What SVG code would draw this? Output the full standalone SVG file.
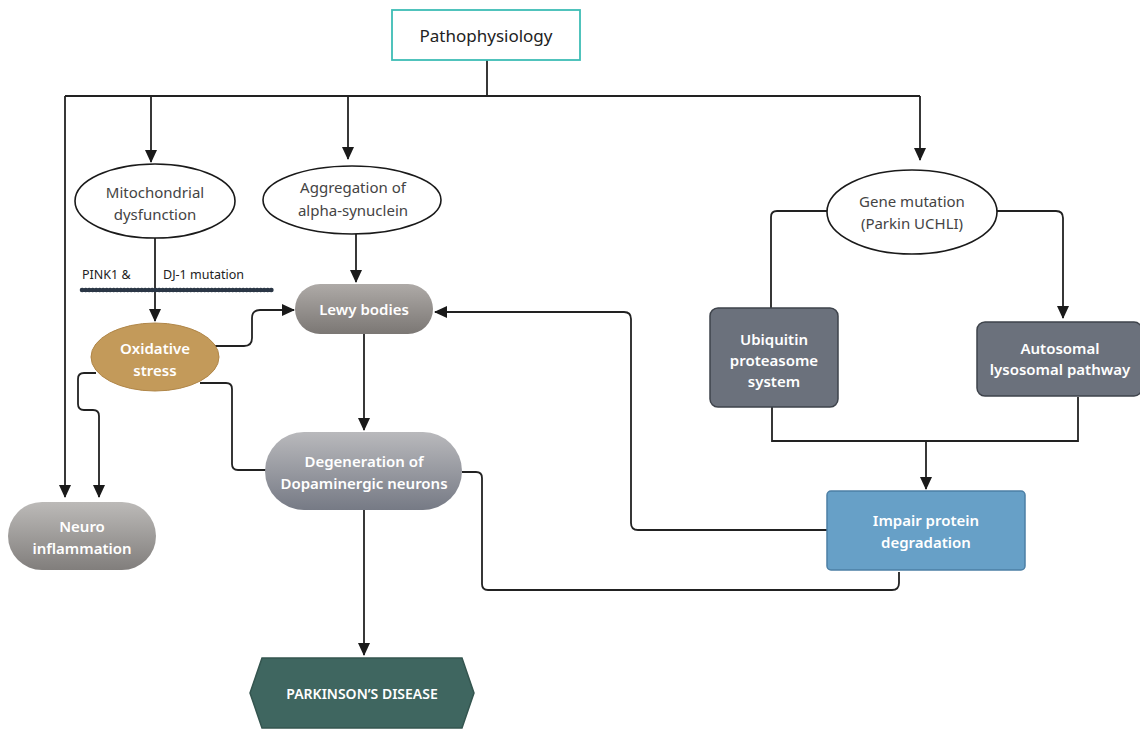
<svg xmlns="http://www.w3.org/2000/svg" width="1140" height="729" viewBox="0 0 1140 729">
<defs>
<marker id="arr" markerUnits="userSpaceOnUse" markerWidth="14" markerHeight="12" refX="12" refY="6" orient="auto">
<path d="M0,0 L13,6 L0,12 Z" fill="#1a1a1a"/>
</marker>
<linearGradient id="gLewy" x1="0" y1="0" x2="0" y2="1"><stop offset="0" stop-color="#aeaaa7"/><stop offset="1" stop-color="#7b7774"/></linearGradient>
<linearGradient id="gDeg" x1="0" y1="0" x2="0" y2="1"><stop offset="0" stop-color="#b9b9bc"/><stop offset="1" stop-color="#767a85"/></linearGradient>
<linearGradient id="gNeuro" x1="0" y1="0" x2="0" y2="1"><stop offset="0" stop-color="#bcbab8"/><stop offset="1" stop-color="#817e7c"/></linearGradient>
<style>
.ln{fill:none;stroke:#222;stroke-width:1.8}
.t{font-family:"Noto Sans","Open Sans","Liberation Sans",sans-serif;text-anchor:middle}
.dk{fill:#444;font-size:15px}
.wt{fill:#fff;font-size:15px;font-weight:600}
.ell{fill:#fff;stroke:#1a1a1a;stroke-width:1.6}
.gb{fill:#6b717c;stroke:#3e434b;stroke-width:1.5}
</style>
</defs>

<g id="connectors">
<path class="ln" d="M487 60 V96"/>
<path class="ln" d="M65 96 H920"/>
<path class="ln" d="M65 96 V497" marker-end="url(#arr)"/>
<path class="ln" d="M151 96 V162" marker-end="url(#arr)"/>
<path class="ln" d="M348 96 V159" marker-end="url(#arr)"/>
<path class="ln" d="M920 96 V160" marker-end="url(#arr)"/>
<path class="ln" d="M155 237 V321" marker-end="url(#arr)"/>
<path class="ln" d="M356 234 V282" marker-end="url(#arr)"/>
<path class="ln" d="M213 346 H244 Q252 346 252 338 V318 Q252 310 260 310 H294" marker-end="url(#arr)"/>
<path class="ln" d="M364 334 V430" marker-end="url(#arr)"/>
<path class="ln" d="M200 383 H226 Q232 383 232 389 V464 Q232 470 238 470 H266"/>
<path class="ln" d="M96 373 H84 Q78 373 78 379 V404 Q78 410 84 410 H93 Q99 410 99 416 V497" marker-end="url(#arr)"/>
<path class="ln" d="M364 510 V655" marker-end="url(#arr)"/>
<path class="ln" d="M829 211 H777 Q771 211 771 217 V309"/>
<path class="ln" d="M996 211 H1056 Q1063 211 1063 218 V318" marker-end="url(#arr)"/>
<path class="ln" d="M772 393 V441 H1078 V397"/>
<path class="ln" d="M926 441 V489" marker-end="url(#arr)"/>
<path class="ln" d="M827 530 H638 Q631 530 631 523 V319 Q631 312 624 312 H435" marker-end="url(#arr)"/>
<path class="ln" d="M462 472 H476 Q482 472 482 478 V584 Q482 590 488 590 H892 Q899 590 899 583 V572"/>
<path d="M82 290 H273" fill="none" stroke="#2b3746" stroke-width="4.6" stroke-linecap="round" stroke-dasharray="0.4 3.1"/>
</g>

<g id="pathophysiology">
<rect x="392" y="10" width="188" height="50" fill="#fff" stroke="#3dbdb5" stroke-width="1.8"/>
<text class="t" x="486" y="42" fill="#222" font-size="17">Pathophysiology</text>
</g>

<g id="mitochondrial">
<ellipse class="ell" cx="155" cy="201" rx="80" ry="37"/>
<text class="t dk" x="155" y="198">Mitochondrial</text>
<text class="t dk" x="155" y="220">dysfunction</text>
</g>

<g id="aggregation">
<ellipse class="ell" cx="352" cy="200" rx="89" ry="34"/>
<text class="t dk" x="353" y="193">Aggregation of</text>
<text class="t dk" x="353" y="216">alpha-synuclein</text>
</g>

<g id="gene-mutation">
<ellipse class="ell" cx="912" cy="212" rx="85" ry="42"/>
<text class="t dk" x="912" y="207">Gene mutation</text>
<text class="t dk" x="912" y="229">(Parkin UCHLI)</text>
</g>

<g id="pink1-label">
<text x="82" y="279" font-family="Noto Sans,Open Sans,sans-serif" font-size="12.5" fill="#222">PINK1 &amp;</text>
<text x="163" y="279" font-family="Noto Sans,Open Sans,sans-serif" font-size="12.5" fill="#222">DJ-1 mutation</text>
</g>

<g id="oxidative-stress">
<ellipse cx="155" cy="357" rx="64" ry="34" fill="#c39a5a" stroke="#b08648" stroke-width="1"/>
<text class="t wt" x="155" y="354">Oxidative</text>
<text class="t wt" x="155" y="376">stress</text>
</g>

<g id="lewy-bodies">
<rect x="295" y="284" width="138" height="50" rx="25" fill="url(#gLewy)"/>
<text class="t wt" x="364" y="315">Lewy bodies</text>
</g>

<g id="degeneration">
<rect x="265" y="432" width="197" height="78" rx="39" fill="url(#gDeg)"/>
<text class="t wt" x="364" y="467">Degeneration of</text>
<text class="t wt" x="364" y="489">Dopaminergic neurons</text>
</g>

<g id="neuro-inflammation">
<rect x="8" y="502" width="148" height="68" rx="34" fill="url(#gNeuro)"/>
<text class="t wt" x="82" y="532">Neuro</text>
<text class="t wt" x="82" y="554">inflammation</text>
</g>

<g id="parkinsons">
<polygon points="262,658 462,658 474,693 462,728 262,728 250,693" fill="#3f6660" stroke="#34554f" stroke-width="1.5"/>
<text class="t" x="362" y="699" fill="#fff" font-size="14" font-weight="600">PARKINSON’S DISEASE</text>
</g>

<g id="ubiquitin">
<rect class="gb" x="710" y="308" width="128" height="99" rx="8"/>
<text class="t wt" x="774" y="345" font-size="14">Ubiquitin</text>
<text class="t wt" x="774" y="366" font-size="14">proteasome</text>
<text class="t wt" x="774" y="387" font-size="14">system</text>
</g>

<g id="autosomal">
<rect class="gb" x="977" y="322" width="165" height="74" rx="8"/>
<text class="t wt" x="1060" y="354" font-size="14">Autosomal</text>
<text class="t wt" x="1060" y="375" font-size="14">lysosomal pathway</text>
</g>

<g id="impair">
<rect x="827" y="491" width="198" height="79" rx="4" fill="#67a0c7" stroke="#4c7fa5" stroke-width="1.5"/>
<text class="t wt" x="926" y="526" font-size="14">Impair protein</text>
<text class="t wt" x="926" y="548" font-size="14">degradation</text>
</g>
</svg>
